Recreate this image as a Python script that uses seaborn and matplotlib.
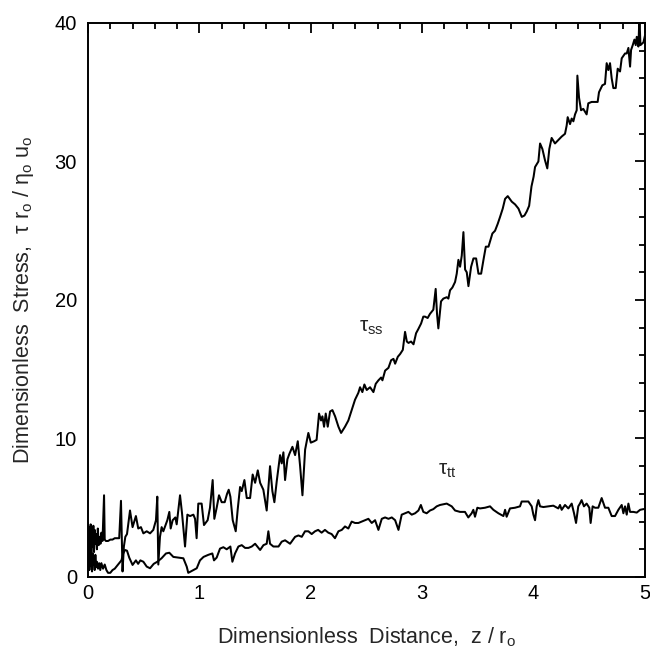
import matplotlib
matplotlib.use("Agg")
import matplotlib.pyplot as plt
import numpy as np
import pandas as pd
import seaborn as sns
from matplotlib.ticker import MultipleLocator

# tau_ss along the axis
z_ss = [0.000, 0.006, 0.012, 0.018, 0.024, 0.030, 0.036, 0.042, 0.048, 0.054,
        0.060, 0.066, 0.072, 0.080, 0.088, 0.096, 0.104, 0.112, 0.120, 0.130,
        0.144, 0.150, 0.160, 0.180, 0.200, 0.220, 0.240, 0.260, 0.280, 0.296,
        0.310, 0.322, 0.335, 0.350, 0.377, 0.400, 0.430, 0.451, 0.475, 0.497,
        0.527, 0.557, 0.586, 0.610, 0.622, 0.631, 0.646, 0.661, 0.676, 0.712,
        0.730, 0.742, 0.760, 0.784, 0.796, 0.826, 0.844, 0.871, 0.892, 0.916,
        0.946, 0.961, 0.975, 0.990, 1.020, 1.041, 1.074, 1.095, 1.119, 1.134,
        1.155, 1.176, 1.200, 1.227, 1.248, 1.263, 1.278, 1.299, 1.326, 1.344,
        1.365, 1.380, 1.404, 1.425, 1.455, 1.478, 1.500, 1.524, 1.545, 1.574,
        1.604, 1.634, 1.655, 1.673, 1.694, 1.724, 1.739, 1.754, 1.769, 1.790,
        1.808, 1.835, 1.859, 1.883, 1.904, 1.925, 1.949, 1.978, 2.000, 2.030,
        2.052, 2.074, 2.092, 2.104, 2.119, 2.134, 2.152, 2.173, 2.194, 2.218,
        2.248, 2.272, 2.307, 2.337, 2.367, 2.397, 2.427, 2.442, 2.463, 2.481,
        2.502, 2.532, 2.562, 2.583, 2.607, 2.631, 2.643, 2.667, 2.697, 2.721,
        2.742, 2.757, 2.781, 2.802, 2.826, 2.846, 2.862, 2.877, 2.900, 2.922,
        2.945, 2.965, 2.990, 3.010, 3.025, 3.049, 3.070, 3.100, 3.121, 3.133,
        3.145, 3.169, 3.190, 3.220, 3.235, 3.250, 3.271, 3.295, 3.310, 3.325,
        3.340, 3.355, 3.370, 3.385, 3.400, 3.415, 3.439, 3.460, 3.484, 3.505,
        3.529, 3.550, 3.571, 3.595, 3.630, 3.654, 3.678, 3.699, 3.723, 3.744,
        3.768, 3.804, 3.834, 3.864, 3.894, 3.918, 3.939, 3.960, 3.981, 4.000,
        4.013, 4.043, 4.058, 4.079, 4.102, 4.123, 4.141, 4.162, 4.192, 4.222,
        4.252, 4.282, 4.297, 4.306, 4.327, 4.342, 4.357, 4.372, 4.387, 4.393,
        4.408, 4.426, 4.446, 4.461, 4.476, 4.491, 4.521, 4.551, 4.575, 4.587,
        4.617, 4.641, 4.656, 4.671, 4.686, 4.701, 4.716, 4.737, 4.755, 4.776,
        4.791, 4.821, 4.836, 4.851, 4.866, 4.875, 4.890, 4.905, 4.917, 4.926,
        4.941, 4.950, 4.959, 4.986, 5.000]
tau_ss = [3.9, 1.2, 3.6, 2.0, 3.8, 1.6, 3.3, 2.2, 3.7, 1.8,
          3.4, 2.4, 3.1, 2.0, 3.5, 2.3, 2.9, 2.4, 3.2, 2.6,
          5.9, 2.7, 2.6, 2.6, 2.7, 2.7, 2.8, 2.8, 2.8, 5.5,
          0.4, 2.2, 2.9, 3.1, 4.8, 3.6, 4.4, 3.5, 3.6, 3.15,
          3.3, 3.15, 3.4, 4.1, 5.8, 0.9, 2.9, 3.6, 3.3, 4.1,
          4.7, 3.5, 4.1, 4.3, 3.8, 5.9, 4.6, 2.2, 4.5, 4.4,
          4.5, 4.2, 2.8, 5.3, 5.3, 3.75, 4.1, 5.0, 7.0, 4.2,
          5.0, 5.9, 5.4, 5.4, 6.0, 6.3, 5.8, 4.1, 3.3, 4.9,
          6.5, 6.2, 7.0, 5.7, 5.7, 7.4, 6.8, 7.7, 6.8, 6.3,
          4.8, 8.0, 6.2, 5.4, 6.9, 8.8, 8.2, 9.0, 7.0, 8.5,
          8.9, 9.4, 8.8, 9.8, 8.0, 5.9, 9.2, 10.4, 9.7, 9.8,
          9.9, 11.8, 11.3, 11.6, 10.85, 11.8, 10.85, 11.95, 12.05, 11.6,
          10.85, 10.4, 10.85, 11.3, 12.05, 12.8, 13.3, 13.7, 13.35, 13.9,
          13.5, 13.7, 13.35, 13.95, 14.2, 14.4, 14.2, 14.9, 15.1, 15.65,
          15.75, 15.4, 15.9, 16.1, 16.4, 17.7, 17.0, 16.9, 17.0, 16.8,
          17.6, 17.9, 18.3, 18.8, 18.8, 18.7, 19.0, 19.3, 20.8, 19.0,
          17.95, 19.9, 20.1, 20.2, 20.1, 20.7, 20.9, 21.3, 21.9, 22.9,
          22.4, 23.2, 24.9, 22.2, 22.0, 21.0, 22.4, 23.0, 23.0, 21.9,
          21.9, 22.9, 23.85, 23.85, 24.8, 25.0, 25.5, 26.0, 26.6, 27.3,
          27.5, 27.1, 26.9, 26.6, 26.0, 26.1, 26.4, 26.8, 28.2, 28.9,
          29.6, 30.0, 31.3, 30.9, 30.1, 29.5, 30.9, 31.7, 31.3, 31.55,
          31.8, 32.0, 32.6, 33.2, 32.7, 33.1, 32.9, 33.4, 33.7, 36.2,
          34.6, 33.7, 33.8, 33.6, 33.4, 34.2, 34.3, 34.3, 34.3, 35.0,
          35.5, 35.6, 37.1, 36.6, 37.1, 36.0, 35.3, 35.3, 36.7, 36.5,
          37.45, 37.8, 37.8, 38.2, 36.85, 38.05, 38.4, 38.8, 38.4, 39.0,
          38.3, 40.5, 38.4, 38.6, 39.1]

# tau_tt along the axis
z_tt = [0.000, 0.006, 0.012, 0.018, 0.024, 0.030, 0.036, 0.042, 0.048, 0.054,
        0.060, 0.066, 0.072, 0.080, 0.090, 0.100, 0.110, 0.120, 0.135, 0.150,
        0.165, 0.180, 0.200, 0.220, 0.240, 0.260, 0.280, 0.300, 0.316, 0.332,
        0.350, 0.370, 0.400, 0.430, 0.450, 0.470, 0.497, 0.527, 0.557, 0.590,
        0.622, 0.660, 0.700, 0.730, 0.766, 0.811, 0.856, 0.886, 0.900, 0.946,
        0.976, 1.005, 1.037, 1.080, 1.116, 1.131, 1.155, 1.185, 1.215, 1.245,
        1.278, 1.296, 1.320, 1.350, 1.380, 1.410, 1.440, 1.470, 1.500, 1.545,
        1.575, 1.604, 1.619, 1.634, 1.664, 1.710, 1.739, 1.769, 1.814, 1.859,
        1.889, 1.919, 1.948, 1.978, 2.008, 2.038, 2.066, 2.097, 2.127, 2.157,
        2.187, 2.217, 2.248, 2.278, 2.307, 2.337, 2.367, 2.397, 2.427, 2.457,
        2.487, 2.517, 2.547, 2.577, 2.607, 2.637, 2.667, 2.697, 2.727, 2.757,
        2.787, 2.816, 2.846, 2.876, 2.906, 2.936, 2.966, 2.988, 3.010, 3.040,
        3.070, 3.100, 3.130, 3.160, 3.220, 3.265, 3.295, 3.340, 3.384, 3.414,
        3.444, 3.459, 3.474, 3.495, 3.519, 3.564, 3.609, 3.639, 3.684, 3.729,
        3.744, 3.758, 3.788, 3.833, 3.878, 3.893, 3.953, 3.983, 3.998, 4.013,
        4.028, 4.043, 4.058, 4.088, 4.132, 4.177, 4.222, 4.237, 4.252, 4.282,
        4.312, 4.342, 4.363, 4.381, 4.401, 4.416, 4.431, 4.452, 4.476, 4.500,
        4.512, 4.530, 4.551, 4.581, 4.611, 4.641, 4.671, 4.701, 4.731, 4.761,
        4.791, 4.806, 4.821, 4.836, 4.851, 4.866, 4.896, 4.926, 4.956, 4.985,
        5.000]
tau_tt = [1.0, 2.2, 0.5, 1.8, 0.8, 1.5, 0.4, 1.7, 0.9, 1.3,
          0.5, 1.6, 0.7, 1.1, 0.6, 1.0, 0.5, 1.0, 0.6, 0.9,
          0.5, 0.3, 0.3, 0.5, 0.6, 0.8, 1.0, 1.2, 1.7, 1.95,
          1.9, 1.4, 0.87, 1.2, 0.95, 1.2, 1.1, 0.75, 0.63, 0.95,
          1.1, 1.35, 1.7, 1.75, 1.45, 1.4, 1.35, 0.75, 0.3, 0.5,
          0.63, 1.2, 1.45, 1.6, 1.7, 1.2, 1.4, 2.05, 2.15, 2.0,
          2.2, 1.1, 1.7, 2.2, 2.3, 2.1, 2.1, 2.2, 2.4, 1.95,
          2.3, 2.4, 3.3, 2.4, 2.2, 2.2, 2.55, 2.65, 2.4, 2.9,
          3.0, 2.9, 3.3, 3.3, 3.1, 3.3, 3.4, 3.2, 3.4, 3.2,
          3.1, 2.8, 3.3, 3.4, 3.65, 3.5, 4.0, 3.9, 3.9, 4.0,
          4.1, 4.2, 3.9, 4.1, 3.4, 4.2, 4.3, 4.2, 4.3, 4.1,
          3.4, 4.5, 4.6, 4.7, 4.5, 4.6, 4.8, 5.2, 4.7, 4.6,
          4.8, 4.9, 5.1, 5.2, 5.3, 5.1, 4.8, 4.7, 4.7, 4.3,
          4.6, 4.85, 4.35, 5.0, 4.95, 5.0, 5.1, 4.85, 4.6, 4.4,
          4.85, 4.35, 4.95, 5.0, 5.1, 5.45, 5.45, 5.1, 4.5, 4.1,
          5.1, 5.55, 5.1, 5.05, 5.1, 5.15, 4.95, 5.2, 4.85, 5.2,
          4.95, 5.3, 4.6, 3.9, 5.1, 5.3, 5.55, 5.1, 5.3, 5.0,
          3.9, 5.1, 5.0, 5.0, 5.7, 5.0, 5.0, 4.4, 4.4, 4.85,
          5.2, 4.6, 5.1, 4.5, 5.3, 4.7, 4.7, 4.65, 4.85, 4.9,
          4.9]

x_label = "Dimensionless  Distance,  z / r$_o$"
y_label = "Dimensionless  Stress,  \u03c4 r$_o$ / \u03b7$_o$ u$_o$"

sns.set_style("white")
plt.rcParams["font.family"] = ["Liberation Sans", "DejaVu Sans"]
plt.rcParams["mathtext.default"] = "regular"

ss = pd.DataFrame({"z": z_ss, "tau": tau_ss})
tt = pd.DataFrame({"z": z_tt, "tau": tau_tt})

fig = plt.figure(figsize=(6.5, 6.53), dpi=100)
ax = fig.add_axes([0.1354, 0.1164, 0.8569, 0.8484])

for d in (ss, tt):
    sns.lineplot(data=d, x="z", y="tau", ax=ax, color="black", linewidth=1.45,
                 sort=False, estimator=None, legend=False)

ax.set_xlim(0, 5)
ax.set_ylim(0, 40)
ax.xaxis.set_major_locator(MultipleLocator(1))
ax.xaxis.set_minor_locator(MultipleLocator(0.2))
ax.yaxis.set_major_locator(MultipleLocator(10))
ax.yaxis.set_minor_locator(MultipleLocator(2))
ax.tick_params(which="both", direction="in", top=True, right=True,
               width=1.3, colors="black", labelsize=14.5)
ax.tick_params(which="major", length=7.5)
ax.tick_params(which="minor", length=4)
ax.tick_params(axis="x", pad=5)
ax.tick_params(axis="y", pad=8)
for s in ax.spines.values():
    s.set_linewidth(1.4)
    s.set_color("black")

ax.set_xlabel(x_label, fontsize=15.5, labelpad=16)
ax.set_ylabel(y_label, fontsize=15.5, labelpad=13)

ax.text(2.43, 17.7, "\u03c4$_{ss}$", fontsize=15, ha="left", va="baseline")
ax.text(3.14, 7.4, "\u03c4$_{tt}$", fontsize=15, ha="left", va="baseline")

fig.savefig("out.png", dpi=100)
